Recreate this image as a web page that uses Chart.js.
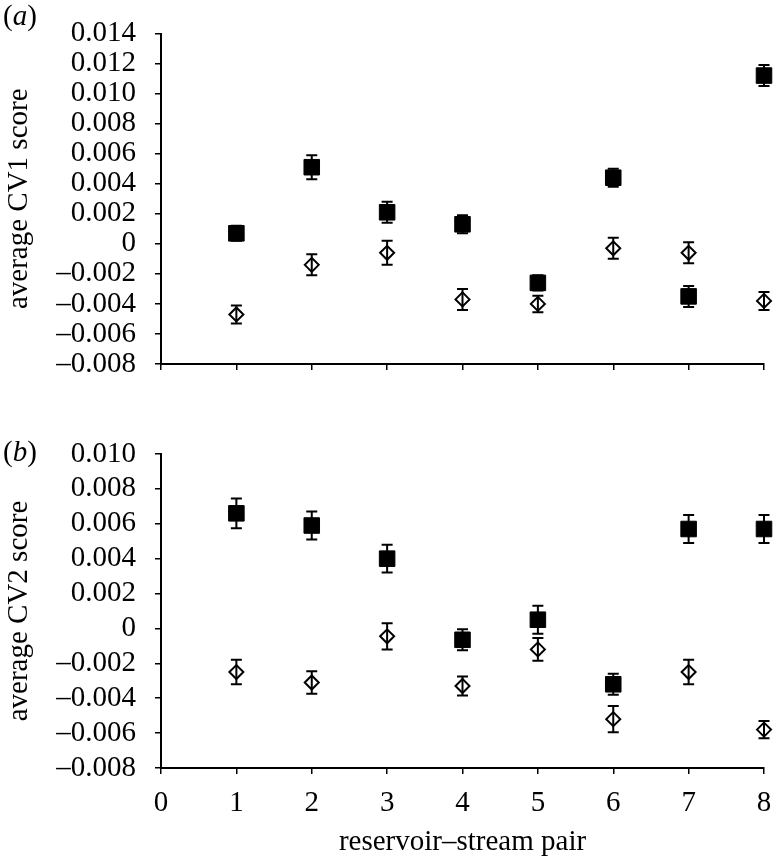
<!DOCTYPE html>
<html>
<head>
<meta charset="utf-8">
<script src="https://cdn.jsdelivr.net/npm/chart.js@4.4.1/dist/chart.umd.min.js"></script>
<style>
  html, body { margin: 0; padding: 0; background: #fff; }
  #wrap { position: relative; width: 776px; height: 863px; }
  canvas { position: absolute; left: 0; }
  #chartA { top: 0; }
  #chartB { top: 400px; }
  .panel { position: absolute; left: 3px; font: 29px 'Liberation Serif', 'Times New Roman', serif; line-height: 29px; color: #000; }
</style>
</head>
<body>
<div id="wrap">
  <canvas id="chartA" width="776" height="400"></canvas>
  <canvas id="chartB" width="776" height="463"></canvas>
  <div class="panel" style="top:1px">(<i>a</i>)</div>
  <div class="panel" style="top:437px">(<i>b</i>)</div>
</div>
<script>
// Dati: coppie serbatoio-torrente, medie e barre d'errore
const pairs = [1, 2, 3, 4, 5, 6, 7, 8];

// (a) CV1
const cv1Filled = [0.0007, 0.0051, 0.0021, 0.0013, -0.0026, 0.0044, -0.0035, 0.0112];
const cv1FilledErr = [0.0005, 0.0008, 0.0007, 0.0006, 0.0005, 0.0006, 0.0007, 0.0007];
const cv1Open = [-0.0047, -0.0014, -0.0006, -0.0037, -0.0040, -0.0003, -0.0006, -0.0038];
const cv1OpenErr = [0.0006, 0.0007, 0.0008, 0.0007, 0.00055, 0.0007, 0.0007, 0.0006];

// (b) CV2
const cv2Filled = [0.0066, 0.0059, 0.0040, -0.00065, 0.0005, -0.0032, 0.0057, 0.0057];
const cv2FilledErr = [0.00085, 0.0008, 0.0008, 0.0006, 0.0008, 0.0006, 0.0008, 0.0008];
const cv2Open = [-0.0025, -0.0031, -0.00045, -0.0033, -0.0012, -0.0052, -0.0025, -0.0058];
const cv2OpenErr = [0.0007, 0.00065, 0.00075, 0.00055, 0.00065, 0.00075, 0.0007, 0.0005];

// Tick
const xTicks = [0, 1, 2, 3, 4, 5, 6, 7, 8];
const xLabels = ['0', '1', '2', '3', '4', '5', '6', '7', '8'];
const yTicksA = [-0.008, -0.006, -0.004, -0.002, 0, 0.002, 0.004, 0.006, 0.008, 0.010, 0.012, 0.014];
const yLabelsA = ['\u20130.008', '\u20130.006', '\u20130.004', '\u20130.002', '0', '0.002', '0.004', '0.006', '0.008', '0.010', '0.012', '0.014'];
const yTicksB = [-0.008, -0.006, -0.004, -0.002, 0, 0.002, 0.004, 0.006, 0.008, 0.010];
const yLabelsB = ['\u20130.008', '\u20130.006', '\u20130.004', '\u20130.002', '0', '0.002', '0.004', '0.006', '0.008', '0.010'];

const FONT = "'Liberation Serif', 'Times New Roman', serif";

// ------------------------------
// Plugin: barre d'errore verticali con cappucci
const errorBars = {
  id: 'errorBars',
  afterDatasetsDraw(chart) {
    const ctx = chart.ctx;
    const xs = chart.scales.x, ys = chart.scales.y;
    ctx.save();
    ctx.strokeStyle = '#000';
    ctx.lineWidth = 2;
    chart.data.datasets.forEach(ds => {
      ds.data.forEach((p, i) => {
        const e = ds.errors[i];
        const x = xs.getPixelForValue(p.x);
        const y1 = ys.getPixelForValue(p.y + e);
        const y2 = ys.getPixelForValue(p.y - e);
        ctx.beginPath();
        ctx.moveTo(x, y1); ctx.lineTo(x, y2);
        ctx.moveTo(x - 5.5, y1); ctx.lineTo(x + 5.5, y1);
        ctx.moveTo(x - 5.5, y2); ctx.lineTo(x + 5.5, y2);
        ctx.stroke();
      });
    });
    ctx.restore();
  }
};

function points(vals) {
  return pairs.map((p, i) => ({ x: p, y: vals[i] }));
}

function makeChart(id, filled, filledErr, open, openErr, yTicks, yLabels, yMin, yMax, yTitle, bottomAxis) {
  const ctx = document.getElementById(id).getContext('2d');
  return new Chart(ctx, {
    type: 'scatter',
    data: {
      datasets: [
        {
          data: points(filled),
          errors: filledErr,
          pointStyle: 'rect',
          pointRadius: 11,
          backgroundColor: '#000',
          borderColor: '#000',
          borderWidth: 1,
          clip: false
        },
        {
          data: points(open),
          errors: openErr,
          pointStyle: 'rectRot',
          pointRadius: 7,
          backgroundColor: '#fff',
          borderColor: '#000',
          borderWidth: 2,
          clip: false
        }
      ]
    },
    options: {
      responsive: false,
      animation: false,
      layout: { padding: { top: bottomAxis ? 54 : 15, right: 10, bottom: 0, left: 0 } },
      plugins: { legend: { display: false }, tooltip: { enabled: false } },
      scales: {
        x: {
          type: 'linear',
          min: 0,
          max: 8,
          afterBuildTicks: s => { s.ticks = xTicks.map(v => ({ value: v })); },
          afterFit: s => { s.height = bottomAxis ? 95 : 36; },
          border: { display: true, color: '#000', width: 2 },
          grid: { drawOnChartArea: false, drawTicks: true, tickLength: 6, color: '#000', lineWidth: 1.5 },
          ticks: {
            display: bottomAxis,
            autoSkip: false,
            maxRotation: 0,
            padding: 0,
            color: '#000',
            font: { family: FONT, size: 29, lineHeight: 2 },
            callback: (v, i) => xLabels[i]
          },
          title: {
            display: bottomAxis,
            text: 'reservoir\u2013stream pair',
            color: '#000',
            font: { family: FONT, size: 29 },
            padding: { top: 0, bottom: 3 }
          }
        },
        y: {
          type: 'linear',
          min: yMin,
          max: yMax,
          afterBuildTicks: s => { s.ticks = yTicks.map(v => ({ value: v })); },
          afterFit: s => { s.width = 161; },
          border: { display: true, color: '#000', width: 2 },
          grid: { drawOnChartArea: false, drawTicks: true, tickLength: 6, color: '#000', lineWidth: 1.5 },
          ticks: {
            autoSkip: false,
            padding: 19,
            color: '#000',
            font: { family: FONT, size: 29, lineHeight: 1 },
            callback: (v, i) => yLabels[i]
          },
          title: {
            display: true,
            text: yTitle,
            color: '#000',
            font: { family: FONT, size: 29 },
            padding: { top: 2, bottom: 0 }
          }
        }
      }
    },
    plugins: [errorBars]
  });
}

const chartA = makeChart('chartA', cv1Filled, cv1FilledErr, cv1Open, cv1OpenErr,
  yTicksA, yLabelsA, -0.008, 0.014, 'average CV1 score', false);
const chartB = makeChart('chartB', cv2Filled, cv2FilledErr, cv2Open, cv2OpenErr,
  yTicksB, yLabelsB, -0.008, 0.010, 'average CV2 score', true);
</script>
</body>
</html>
